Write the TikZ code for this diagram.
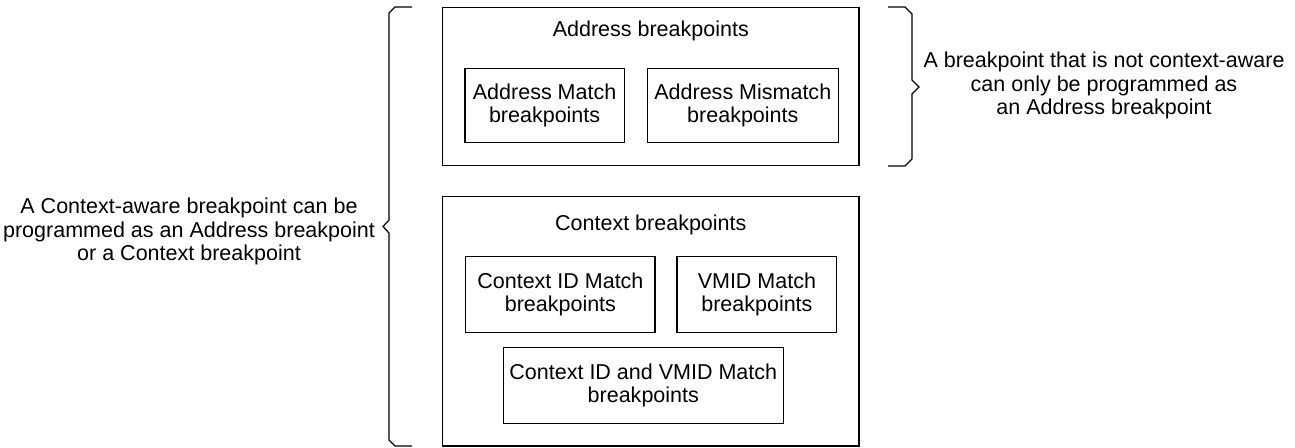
\documentclass[tikz,border=0pt]{standalone}
\usepackage{fontspec}
\setmainfont{Liberation Sans}

\tikzset{
  lbl/.style={font=\fontsize{12.24}{13.37}\selectfont, align=center, inner sep=0pt},
  frame/.style={line width=0.7pt, black},
}

\begin{document}
\begin{tikzpicture}[x=0.02cm, y=-0.02cm]

\useasboundingbox (0,0) rectangle (1295,447);

\draw[frame] (442.7,7.3) rectangle (859,165.7);
\draw[frame] (442.7,196.7) rectangle (859,446);

\draw[frame] (465,68.3) rectangle (624.3,142.7);
\draw[frame] (647.3,68.3) rectangle (838.3,142.7);

\draw[frame] (465.7,256.7) rectangle (655,332.3);
\draw[frame] (677,256.7) rectangle (836.7,332.3);
\draw[frame] (503.3,347.3) rectangle (783.3,423.3);

\draw[frame] (412,7) -- (395,7) -- (389,13) -- (389,220) -- (383,226.5)
  -- (389,233) -- (389,440) -- (395,446) -- (412,446);
\draw[frame] (888,7) -- (905,7) -- (912,14) -- (912,80) -- (919,87)
  -- (912,94) -- (912,159) -- (905,166) -- (888,166);

\node[lbl, anchor=base] (addrtitle) at (650.8,36) {Address breakpoints};
\node[lbl, anchor=base] (ctxtitle)  at (650.8,230) {Context breakpoints};

\node[lbl] (amatch)    at (544.6,105.5) {Address Match\\breakpoints};
\node[lbl] (amismatch) at (742.8,105.5) {Address Mismatch\\breakpoints};

\node[lbl] (cidmatch)  at (560.4,294.5) {Context ID Match\\breakpoints};
\node[lbl] (vmidmatch) at (756.9,294.5) {VMID Match\\breakpoints};
\node[lbl] (bothmatch) at (643.3,385.3) {Context ID and VMID Match\\breakpoints};

\node[lbl] (ctxnote)  at (189,231.8)
  {A Context-aware breakpoint can be\\programmed as an Address breakpoint\\or a Context breakpoint};
\node[lbl] (addrnote) at (1104,85.7)
  {A breakpoint that is not context-aware\\can only be programmed as\\an Address breakpoint};

\end{tikzpicture}
\end{document}
